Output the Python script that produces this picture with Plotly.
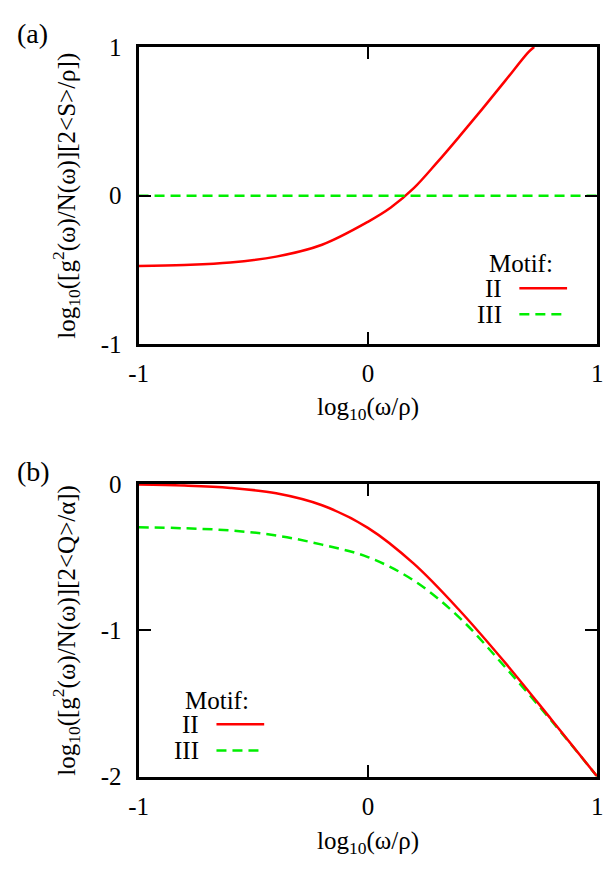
import plotly.graph_objects as go

W, H = 613, 871
FONT = "Times New Roman, Liberation Serif, serif"

# ---- data ----
# panel (a)
a_x_II = [-1.0, -0.8, -0.6, -0.4, -0.2, 0.0, 0.1, 0.2, 0.3, 0.4, 0.5, 0.6, 0.7, 0.725]
a_y_II = [-0.473, -0.466, -0.45, -0.41, -0.33, -0.176, -0.08, 0.05, 0.22, 0.40, 0.585, 0.775, 0.965, 1.0]
a_x_III = [-1.0, 1.0]
a_y_III = [0.0, 0.0]
# panel (b)
b_x = [-1.0, -0.8, -0.6, -0.4, -0.2, 0.0, 0.2, 0.4, 0.6, 0.8, 1.0]
b_y_II = [-0.004, -0.011, -0.027, -0.064, -0.146, -0.30, -0.545, -0.865, -1.225, -1.61, -2.0]
b_y_III = [-0.296, -0.303, -0.318, -0.352, -0.415, -0.50, -0.66, -0.915, -1.255, -1.618, -2.0]

x_ticks = [-1, 0, 1]
x_ticktext = ["-1", "0", "1"]
a_y_ticks = [-1, 0, 1]
a_y_ticktext = ["-1", "0", "1"]
b_y_ticks = [-2, -1, 0]
b_y_ticktext = ["-2", "-1", "0"]

RED = "#ff0000"
GREEN = "#00ee00"
DASH = "10px,6px"


def px_x(p):
    return p / W


def px_y(p):
    return 1 - p / H


fig = go.Figure()
fig.add_trace(go.Scatter(x=a_x_II, y=a_y_II, mode="lines", line=dict(color=RED, width=2.5, shape="spline"),
                         xaxis="x", yaxis="y", showlegend=False))
fig.add_trace(go.Scatter(x=a_x_III, y=a_y_III, mode="lines", line=dict(color=GREEN, width=2.5, dash=DASH),
                         xaxis="x", yaxis="y", showlegend=False))
fig.add_trace(go.Scatter(x=b_x, y=b_y_III, mode="lines", line=dict(color=GREEN, width=2.5, dash=DASH, shape="spline"),
                         xaxis="x2", yaxis="y2", showlegend=False))
fig.add_trace(go.Scatter(x=b_x, y=b_y_II, mode="lines", line=dict(color=RED, width=2.5, shape="spline"),
                         xaxis="x2", yaxis="y2", showlegend=False))

axis_common = dict(showline=True, linewidth=3, linecolor="black", mirror="allticks",
                   ticks="inside", ticklen=12, tickwidth=2, tickcolor="black",
                   showgrid=False, zeroline=False,
                   tickfont=dict(family=FONT, size=25, color="black"))

xd = [px_x(132), px_x(603)]
fig.update_layout(
    width=W, height=H, margin=dict(l=0, r=0, t=0, b=0),
    paper_bgcolor="white", plot_bgcolor="white",
    font=dict(family=FONT, color="black"),
    xaxis=dict(domain=xd, range=[-1, 1], tickvals=x_ticks, ticktext=x_ticktext,
               anchor="y", ticklabelstandoff=5, **axis_common),
    yaxis=dict(domain=[px_y(342), px_y(35)], range=[-1, 1], tickvals=a_y_ticks, ticktext=a_y_ticktext,
               anchor="x", ticklabelstandoff=9, **axis_common),
    xaxis2=dict(domain=xd, range=[-1, 1], tickvals=x_ticks, ticktext=x_ticktext,
                anchor="y2", ticklabelstandoff=5, **axis_common),
    yaxis2=dict(domain=[px_y(788), px_y(486)], range=[-2, 0], tickvals=b_y_ticks, ticktext=b_y_ticktext,
                anchor="x2", ticklabelstandoff=9, **axis_common),
)

ann = []
tf = dict(family=FONT, size=25, color="black")
xt = "log<sub>10</sub>(ω/ρ)"
ann.append(dict(text=xt, x=px_x(368), y=px_y(408), xref="paper", yref="paper", showarrow=False,
                xanchor="center", yanchor="middle", font=tf))
ann.append(dict(text=xt, x=px_x(368), y=px_y(856), xref="paper", yref="paper", showarrow=False,
                xanchor="center", yanchor="middle", font=tf))
ann.append(dict(text="log<sub>10</sub>([g<sup>2</sup>(ω)/N(ω)][2&lt;S&gt;/ρ])", x=px_x(58), y=px_y(188),
                xref="paper", yref="paper", showarrow=False, textangle=-90,
                xanchor="center", yanchor="middle", font=tf))
ann.append(dict(text="log<sub>10</sub>([g<sup>2</sup>(ω)/N(ω)][2&lt;Q&gt;/α])", x=px_x(58), y=px_y(637),
                xref="paper", yref="paper", showarrow=False, textangle=-90,
                xanchor="center", yanchor="middle", font=tf))
pf = dict(family=FONT, size=28, color="black")
ann.append(dict(text="(a)", x=px_x(5), y=px_y(21), xref="paper", yref="paper", showarrow=False,
                xanchor="left", yanchor="middle", font=pf))
ann.append(dict(text="(b)", x=px_x(5), y=px_y(473), xref="paper", yref="paper", showarrow=False,
                xanchor="left", yanchor="middle", font=pf))

# custom legends (gnuplot style: text then sample line)
legends = [
    dict(title_x=490, title_y=259, text_r=507, y_II=284, y_III=311, l0=523, l1=572),
    dict(title_x=178, title_y=709, text_r=196, y_II=734, y_III=761, l0=212, l1=261),
]
shapes = []
for lg in legends:
    ann.append(dict(text="Motif:", x=px_x(lg["title_x"]), y=px_y(lg["title_y"]), xref="paper", yref="paper",
                    showarrow=False, xanchor="left", yanchor="middle", font=tf))
    ann.append(dict(text="II", x=px_x(lg["text_r"]), y=px_y(lg["y_II"]), xref="paper", yref="paper",
                    showarrow=False, xanchor="right", yanchor="middle", font=tf))
    ann.append(dict(text="III", x=px_x(lg["text_r"]), y=px_y(lg["y_III"]), xref="paper", yref="paper",
                    showarrow=False, xanchor="right", yanchor="middle", font=tf))
    shapes.append(dict(type="line", xref="paper", yref="paper", x0=px_x(lg["l0"]), x1=px_x(lg["l1"]),
                       y0=px_y(lg["y_II"]), y1=px_y(lg["y_II"]), line=dict(color=RED, width=2.5)))
    shapes.append(dict(type="line", xref="paper", yref="paper", x0=px_x(lg["l0"]), x1=px_x(lg["l1"]),
                       y0=px_y(lg["y_III"]), y1=px_y(lg["y_III"]), line=dict(color=GREEN, width=2.5, dash=DASH)))

fig.update_layout(annotations=ann, shapes=shapes)
fig.write_html("out.html")
